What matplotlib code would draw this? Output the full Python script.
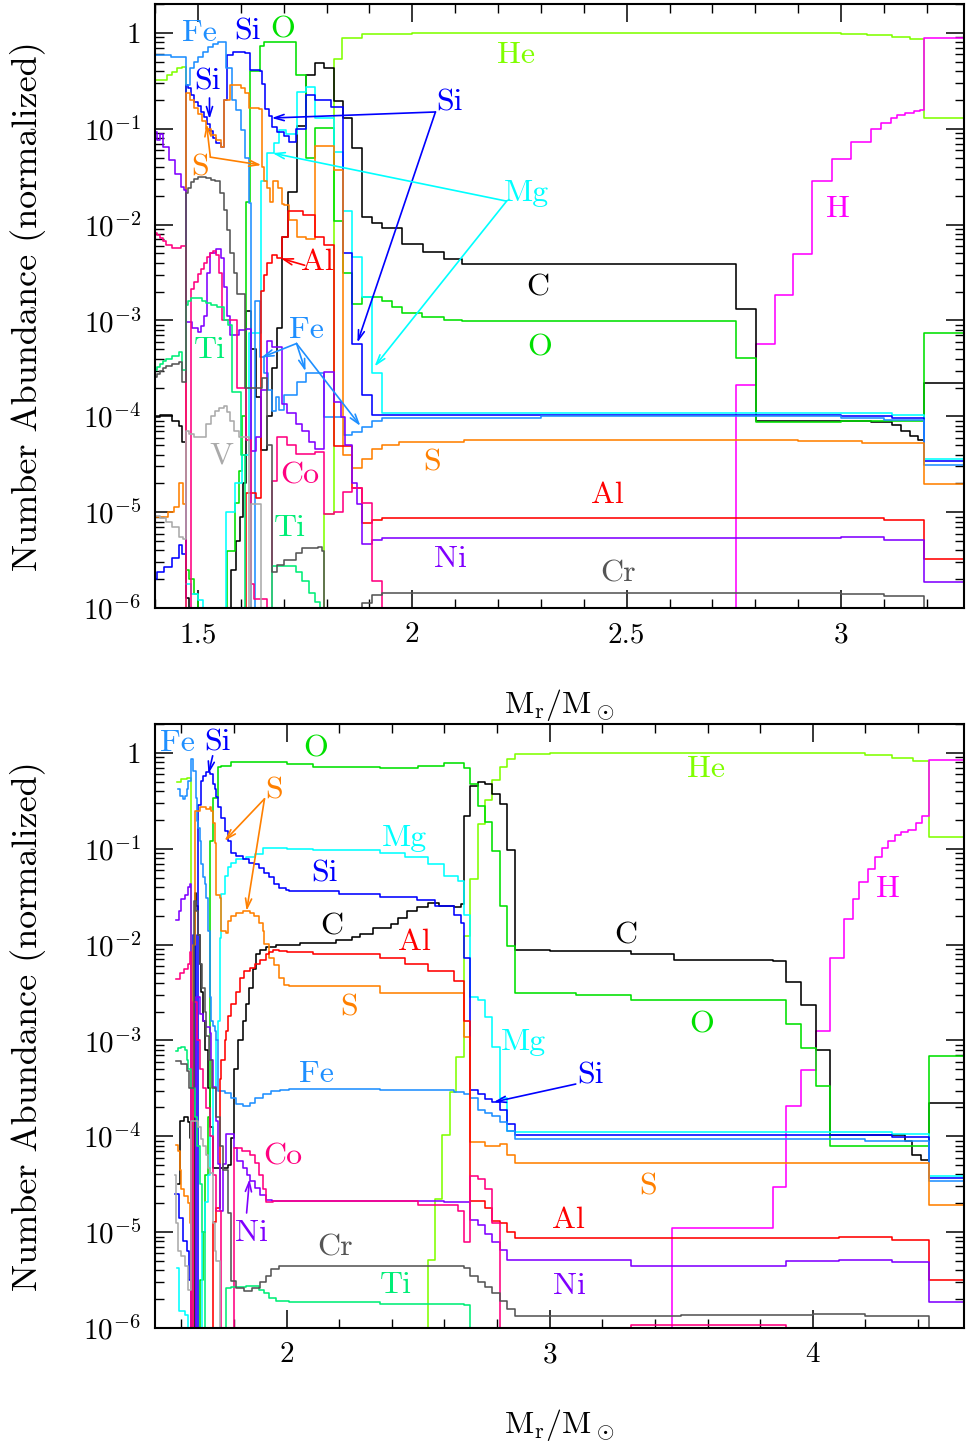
import numpy as np
import matplotlib
matplotlib.use('Agg')
import matplotlib.pyplot as plt
from matplotlib.ticker import MultipleLocator, LogLocator, FuncFormatter, NullFormatter

plt.rcParams['font.family'] = 'cmr10'
plt.rcParams['mathtext.fontset'] = 'cm'
plt.rcParams['axes.unicode_minus'] = False
plt.rcParams['axes.formatter.use_mathtext'] = True

# values: (M_r/M_sun, log10 number abundance), step curves

# ---- upper panel ----
he_top = [(1.397, -0.49), (1.428, -0.44), (1.44, -0.41), (1.452, -0.37), (1.463, -0.36), (1.472, -7),
          (1.795, -5.02), (1.817, -0.27), (1.837, -0.055), (1.883, -0.01), (2.0, 0.0), (2.93, 0.0),
          (3.0, -0.01), (3.06, -0.02), (3.12, -0.04), (3.16, -0.06), (3.194, -0.885), (3.29, -0.885)]
h_top = [(2.70, -7), (2.754, -3.67), (2.801, -3.24), (2.845, -2.73), (2.889, -2.31), (2.933, -1.55),
         (2.978, -1.32), (3.024, -1.14), (3.07, -1.0), (3.093, -0.94), (3.117, -0.885), (3.13, -0.86),
         (3.15, -0.84), (3.17, -0.815), (3.185, -0.80), (3.194, -0.055), (3.29, -0.055)]
c_top = [(1.397, -4.01), (1.411, -3.99), (1.44, -4.05), (1.455, -4.10), (1.462, -4.27), (1.472, -5.89),
         (1.479, -7), (1.567, -7), (1.578, -5.6), (1.588, -5.3), (1.598, -5.05), (1.605, -4.7),
         (1.611, -2.9), (1.623, -3.3), (1.635, -3.8), (1.646, -4.35), (1.66, -4.0), (1.673, -3.5),
         (1.685, -3.08), (1.697, -2.13), (1.711, -1.66), (1.73, -0.97), (1.751, -0.44), (1.774, -0.31),
         (1.794, -0.37), (1.817, -0.71), (1.839, -0.885), (1.86, -1.2), (1.883, -1.92), (1.907, -1.985),
         (1.93, -2.04), (1.977, -2.2), (2.025, -2.29), (2.074, -2.36), (2.117, -2.41), (2.754, -2.88),
         (2.802, -4.05), (3.07, -4.06), (3.12, -4.09), (3.14, -4.15), (3.16, -4.21), (3.18, -4.25),
         (3.194, -3.65), (3.29, -3.65)]
o_top = [(1.472, -5.6), (1.48, -5.7), (1.49, -5.85), (1.5, -6.0), (1.51, -6.3), (1.52, -7), (1.568, -5.4),
         (1.586, -4.9), (1.596, -4.57), (1.603, -4.0), (1.611, -1.76), (1.622, -0.40), (1.645, -0.14),
         (1.654, -0.10), (1.728, -0.44), (1.751, -1.31), (1.773, -0.99), (1.817, -1.96), (1.839, -2.50),
         (1.86, -2.83), (1.883, -2.75), (1.907, -2.76), (1.93, -2.80), (1.953, -2.86), (1.976, -2.92),
         (2.023, -2.96), (2.074, -2.99), (2.117, -3.005), (2.754, -3.39), (2.801, -4.06), (3.0, -4.05),
         (3.194, -3.13), (3.29, -3.13)]
mg_top = [(1.472, -5.75), (1.484, -5.85), (1.5, -5.92), (1.512, -6.05), (1.524, -7), (1.565, -5.0),
          (1.586, -4.7), (1.603, -4.4), (1.619, -3.13), (1.646, -1.55), (1.661, -1.25), (1.677, -1.15),
          (1.689, -1.01), (1.705, -1.05), (1.731, -0.62), (1.751, -0.56), (1.773, -0.89), (1.796, -0.89),
          (1.817, -1.24), (1.839, -1.86), (1.86, -2.34), (1.883, -2.75), (1.907, -3.55), (1.93, -3.96),
          (3.0, -3.97), (3.12, -3.99), (3.194, -4.44), (3.29, -4.44)]
si_top = [(1.397, -5.7), (1.405, -5.62), (1.42, -5.57), (1.44, -5.48), (1.455, -5.34), (1.462, -5.44),
          (1.472, -0.54), (1.478, -0.58), (1.484, -0.65), (1.49, -0.72), (1.5, -0.76), (1.507, -0.82),
          (1.514, -0.88), (1.521, -0.95), (1.528, -1.02), (1.535, -1.10), (1.542, -1.15), (1.553, -1.19),
          (1.561, -0.70), (1.568, -0.23), (1.582, -0.195), (1.61, -0.21), (1.622, -0.39), (1.645, -0.40),
          (1.649, -0.53), (1.657, -0.79), (1.665, -0.87), (1.672, -0.98), (1.684, -1.03), (1.70, -1.08),
          (1.712, -1.14), (1.728, -1.0), (1.751, -0.65), (1.774, -0.70), (1.811, -0.77), (1.839, -2.30),
          (1.86, -3.24), (1.883, -3.78), (1.907, -3.99), (3.0, -4.0), (3.12, -4.02), (3.194, -4.47),
          (3.29, -4.47)]
fe_top = [(1.397, -0.23), (1.437, -0.25), (1.472, -0.54), (1.481, -0.37), (1.491, -0.30), (1.5, -0.25),
          (1.512, -0.20), (1.523, -0.15), (1.535, -0.12), (1.547, -0.10), (1.565, -0.37), (1.579, -0.70),
          (1.589, -0.80), (1.60, -1.01), (1.61, -1.30), (1.619, -1.77), (1.624, -7), (1.633, -2.80),
          (1.645, -3.38), (1.654, -3.55), (1.663, -3.73), (1.673, -3.94), (1.682, -3.80), (1.689, -3.93),
          (1.70, -3.78), (1.731, -3.64), (1.752, -3.55), (1.794, -4.01), (1.841, -4.19), (1.86, -4.16),
          (1.883, -4.11), (1.906, -4.05), (1.929, -4.02), (2.3, -4.0), (3.0, -4.02), (3.1, -4.04),
          (3.194, -4.51), (3.29, -4.51)]
s_top = [(1.397, -5.05), (1.43, -5.0), (1.445, -4.95), (1.455, -4.69), (1.465, -4.91), (1.472, -0.63),
         (1.481, -0.70), (1.491, -0.78), (1.5, -0.85), (1.51, -0.92), (1.52, -1.0), (1.53, -1.06),
         (1.542, -1.12), (1.553, -1.19), (1.56, -0.70), (1.575, -0.54), (1.6, -0.58), (1.61, -0.63),
         (1.62, -0.78), (1.643, -0.79), (1.65, -1.40), (1.655, -1.55), (1.66, -1.62), (1.668, -1.76),
         (1.676, -1.55), (1.686, -1.62), (1.695, -1.78), (1.70, -1.80), (1.712, -1.95), (1.731, -2.13),
         (1.752, -2.15), (1.773, -1.18), (1.796, -1.18), (1.817, -1.43), (1.839, -4.40), (1.86, -4.54),
         (1.883, -4.44), (1.907, -4.34), (1.93, -4.30), (1.97, -4.27), (2.12, -4.25), (2.9, -4.26),
         (3.05, -4.28), (3.194, -4.71), (3.29, -4.71)]
al_top = [(1.60, -7), (1.612, -4.80), (1.635, -4.85), (1.646, -2.69), (1.655, -2.53), (1.662, -2.40),
          (1.672, -2.32), (1.685, -2.35), (1.697, -2.13), (1.71, -1.86), (1.745, -1.90), (1.773, -2.13),
          (1.794, -2.21), (1.817, -4.31), (1.86, -4.75), (1.883, -5.11), (1.907, -5.08), (1.93, -5.06),
          (3.0, -5.06), (3.1, -5.08), (3.194, -5.49), (3.29, -5.49)]
ni_top = [(1.397, -1.03), (1.404, -1.12), (1.411, -1.05), (1.418, -1.19), (1.432, -1.33), (1.446, -1.47),
          (1.46, -1.61), (1.467, -1.64), (1.472, -3.02), (1.486, -3.08), (1.5, -3.12), (1.507, -3.06),
          (1.514, -2.95), (1.521, -2.5), (1.528, -2.30), (1.542, -2.25), (1.553, -2.35), (1.56, -2.65),
          (1.567, -2.95), (1.575, -3.15), (1.595, -3.10), (1.611, -3.09), (1.623, -4.36), (1.635, -4.22),
          (1.646, -3.73), (1.662, -3.21), (1.673, -3.28), (1.697, -3.87), (1.708, -3.96), (1.728, -4.08),
          (1.743, -4.15), (1.759, -4.27), (1.774, -4.34), (1.794, -3.54), (1.817, -3.85), (1.833, -4.01),
          (1.844, -4.3), (1.86, -4.69), (1.872, -4.91), (1.883, -5.33), (1.907, -5.29), (1.93, -5.27),
          (3.0, -5.26), (3.1, -5.29), (3.194, -5.73), (3.29, -5.73)]
co_top = [(1.397, -2.09), (1.404, -2.11), (1.411, -2.14), (1.418, -2.17), (1.425, -2.21), (1.44, -2.24),
          (1.46, -2.22), (1.472, -7), (1.483, -2.67), (1.49, -2.6), (1.5, -2.52), (1.507, -2.46),
          (1.514, -2.40), (1.521, -2.34), (1.528, -2.30), (1.535, -2.28), (1.542, -2.32), (1.549, -2.5),
          (1.556, -3.0), (1.576, -3.0), (1.592, -3.70), (1.611, -4.25), (1.623, -5.75), (1.63, -5.9),
          (1.654, -5.9), (1.662, -7), (1.673, -4.67), (1.685, -4.22), (1.708, -4.3), (1.728, -4.39),
          (1.774, -4.37), (1.794, -5.02), (1.817, -5.0), (1.839, -4.79), (1.86, -4.75), (1.883, -4.9),
          (1.907, -5.72), (1.93, -7), (3.29, -7)]
ti_top = [(1.397, -3.52), (1.404, -3.48), (1.411, -3.45), (1.418, -3.42), (1.425, -3.40), (1.44, -3.37),
          (1.455, -3.33), (1.462, -3.52), (1.472, -2.84), (1.478, -2.80), (1.484, -2.77), (1.50, -2.77),
          (1.51, -2.80), (1.52, -2.82), (1.53, -2.84), (1.545, -2.86), (1.56, -3.0), (1.57, -3.05),
          (1.58, -3.75), (1.60, -4.4), (1.61, -7), (1.673, -5.56), (1.70, -5.56), (1.728, -5.62),
          (1.743, -5.72), (1.759, -5.84), (1.774, -5.94), (1.785, -6.0), (1.80, -7), (3.29, -7)]
cr_top = [(1.397, -3.59), (1.404, -3.56), (1.411, -3.53), (1.418, -3.50), (1.425, -3.47), (1.44, -3.45),
          (1.455, -3.43), (1.462, -3.64), (1.472, -1.67), (1.478, -1.62), (1.484, -1.56), (1.49, -1.52),
          (1.50, -1.50), (1.52, -1.51), (1.53, -1.53), (1.54, -1.55), (1.552, -1.67), (1.56, -1.85),
          (1.568, -2.06), (1.575, -2.30), (1.585, -2.50), (1.59, -2.72), (1.61, -3.70), (1.65, -3.60),
          (1.66, -4.3), (1.673, -5.62), (1.685, -5.55), (1.70, -5.5), (1.728, -5.43), (1.743, -5.37),
          (1.78, -5.36), (1.79, -5.40), (1.794, -7), (1.86, -7), (1.883, -5.95), (1.907, -5.86),
          (1.93, -5.84), (3.0, -5.85), (3.1, -5.87), (3.194, -7), (3.29, -7)]
v_top = [(1.397, -5.04), (1.411, -5.06), (1.425, -5.10), (1.44, -5.15), (1.455, -5.26), (1.465, -5.28),
         (1.472, -4.15), (1.48, -4.18), (1.49, -4.22), (1.51, -4.22), (1.52, -4.08), (1.53, -4.0),
         (1.54, -3.94), (1.55, -3.91), (1.56, -3.89), (1.568, -3.95), (1.575, -4.05), (1.585, -4.15),
         (1.595, -4.22), (1.61, -4.22), (1.618, -7), (1.624, -4.91), (1.645, -4.91), (1.648, -7), (3.29, -7)]

# ---- lower panel ----
he_bot = [(1.584, -0.30), (1.60, -0.27), (1.62, -0.26), (1.638, -7), (2.536, -5.29), (2.564, -4.65),
          (2.592, -3.99), (2.62, -3.54), (2.642, -3.17), (2.674, -1.91), (2.698, -1.32), (2.726, -0.74),
          (2.754, -0.49), (2.782, -0.28), (2.81, -0.15), (2.838, -0.06), (2.867, -0.017), (3.0, 0.0),
          (4.11, 0.0), (4.2, -0.02), (4.3, -0.05), (4.38, -0.09), (4.44, -0.88), (4.58, -0.88)]
h_bot = [(3.40, -7), (3.464, -4.96), (3.85, -4.53), (3.899, -3.68), (3.956, -3.31), (4.012, -2.90),
         (4.065, -2.14), (4.117, -1.73), (4.152, -1.52), (4.176, -1.35), (4.208, -1.21), (4.236, -1.09),
         (4.262, -0.99), (4.286, -0.92), (4.314, -0.86), (4.335, -0.83), (4.363, -0.80), (4.391, -0.73),
         (4.415, -0.66), (4.44, -0.07), (4.58, -0.07)]
c_bot = [(1.587, -4.5), (1.593, -3.84), (1.61, -3.80), (1.625, -3.85), (1.631, -4.02), (1.638, -7),
         (1.65, -1.46), (1.657, -1.6), (1.663, -1.9), (1.669, -2.2), (1.676, -2.5), (1.682, -2.8),
         (1.69, -3.1), (1.70, -3.5), (1.707, -3.9), (1.72, -4.33), (1.777, -4.30), (1.79, -4.02),
         (1.80, -3.3), (1.815, -3.0), (1.834, -2.80), (1.846, -2.62), (1.859, -2.45), (1.872, -2.25),
         (1.885, -2.10), (1.90, -2.06), (1.923, -2.03), (1.96, -2.0), (2.05, -1.98), (2.189, -1.95),
         (2.25, -1.92), (2.278, -1.89), (2.33, -1.83), (2.396, -1.79), (2.424, -1.72), (2.459, -1.65),
         (2.494, -1.61), (2.536, -1.57), (2.578, -1.60), (2.635, -1.61), (2.663, -1.58), (2.674, -0.655),
         (2.698, -0.35), (2.726, -0.30), (2.754, -0.33), (2.782, -0.43), (2.81, -0.53), (2.838, -1.01),
         (2.867, -2.06), (3.0, -2.07), (3.31, -2.10), (3.471, -2.16), (3.85, -2.17), (3.899, -2.39),
         (3.956, -2.63), (4.012, -3.10), (4.065, -3.99), (4.349, -4.05), (4.377, -4.20), (4.412, -4.25),
         (4.44, -3.65), (4.58, -3.65)]
o_bot = [(1.66, -7), (1.67, -5.5), (1.682, -5.0), (1.69, -4.4), (1.70, -3.8), (1.707, -0.92),
         (1.72, -0.47), (1.739, -0.15), (1.752, -0.135), (1.79, -0.10), (1.9, -0.10), (2.0, -0.12),
         (2.1, -0.15), (2.354, -0.16), (2.5, -0.14), (2.6, -0.11), (2.674, -0.16), (2.698, -0.33),
         (2.726, -0.55), (2.754, -0.72), (2.782, -1.02), (2.81, -1.60), (2.838, -2.01), (2.867, -2.51),
         (3.1, -2.53), (3.31, -2.58), (3.899, -2.83), (3.956, -3.08), (4.012, -3.48), (4.065, -4.10),
         (4.44, -3.16), (4.58, -3.16)]
mg_bot = [(1.582, -5.37), (1.59, -5.82), (1.615, -5.86), (1.625, -7), (1.68, -5.0), (1.69, -4.69),
          (1.70, -4.4), (1.71, -4.0), (1.72, -3.5), (1.73, -3.0), (1.739, -2.80), (1.745, -1.93),
          (1.752, -1.47), (1.764, -1.28), (1.777, -1.19), (1.79, -1.15), (1.809, -1.11), (1.847, -1.09),
          (1.88, -1.06), (1.91, -0.99), (2.0, -1.0), (2.1, -1.01), (2.354, -1.05), (2.45, -1.09),
          (2.536, -1.16), (2.6, -1.28), (2.65, -1.34), (2.674, -1.69), (2.698, -2.55), (2.726, -2.58),
          (2.754, -2.76), (2.782, -3.07), (2.81, -3.60), (2.838, -3.95), (2.867, -3.96), (4.3, -3.98),
          (4.44, -4.41), (4.58, -4.41)]
si_bot = [(1.575, -4.6), (1.59, -4.85), (1.606, -5.09), (1.62, -5.2), (1.63, -5.5), (1.64, -7),
          (1.645, -1.9), (1.655, -7), (1.665, -0.54), (1.676, -0.29), (1.682, -0.24), (1.695, -0.205),
          (1.707, -0.22), (1.72, -0.327), (1.726, -0.379), (1.733, -0.466), (1.739, -0.57), (1.752, -0.675),
          (1.764, -0.814), (1.777, -0.919), (1.79, -1.04), (1.809, -1.075), (1.834, -1.11), (1.859, -1.145),
          (1.878, -1.162), (1.897, -1.197), (1.916, -1.249), (1.935, -1.30), (1.954, -1.37), (1.973, -1.405),
          (1.999, -1.43), (2.011, -1.44), (2.2, -1.47), (2.354, -1.50), (2.494, -1.54), (2.564, -1.60),
          (2.635, -1.69), (2.663, -1.77), (2.674, -2.14), (2.698, -3.52), (2.726, -3.56), (2.754, -3.61),
          (2.782, -3.64), (2.81, -3.73), (2.838, -3.87), (2.867, -3.99), (4.3, -4.01), (4.44, -4.43),
          (4.58, -4.43)]
fe_bot = [(1.587, -0.38), (1.595, -0.45), (1.605, -0.48), (1.615, -0.45), (1.62, -0.38), (1.627, -0.29),
          (1.638, -0.066), (1.645, -0.19), (1.654, -0.47), (1.66, -0.71), (1.665, -0.78), (1.67, -0.92),
          (1.676, -1.16), (1.682, -1.30), (1.688, -1.37), (1.695, -1.51), (1.70, -1.86), (1.707, -2.55),
          (1.714, -2.80), (1.72, -2.85), (1.726, -2.90), (1.733, -3.0), (1.739, -3.53), (1.764, -3.55),
          (1.79, -3.60), (1.809, -3.66), (1.834, -3.68), (1.86, -3.65), (1.88, -3.60), (1.91, -3.56),
          (1.94, -3.53), (1.975, -3.52), (2.011, -3.51), (2.354, -3.52), (2.635, -3.54), (2.674, -3.56),
          (2.698, -3.60), (2.726, -3.73), (2.754, -3.76), (2.782, -3.79), (2.81, -3.85), (2.838, -3.95),
          (2.867, -4.03), (4.2, -4.05), (4.44, -4.47), (4.58, -4.47)]
s_bot = [(1.58, -4.09), (1.587, -4.15), (1.593, -4.35), (1.60, -4.55), (1.61, -4.62), (1.625, -4.7),
         (1.632, -4.9), (1.638, -7), (1.645, -2.0), (1.652, -0.61), (1.669, -0.57), (1.682, -0.57),
         (1.695, -0.59), (1.707, -0.57), (1.714, -0.61), (1.72, -0.73), (1.726, -0.94), (1.733, -1.48),
         (1.745, -1.51), (1.752, -1.86), (1.77, -1.88), (1.777, -1.75), (1.79, -1.70), (1.809, -1.67),
         (1.834, -1.65), (1.86, -1.67), (1.878, -1.70), (1.897, -1.77), (1.91, -1.86), (1.916, -1.99),
         (1.935, -2.14), (1.954, -2.21), (1.973, -2.35), (1.99, -2.42), (2.011, -2.43), (2.354, -2.51),
         (2.674, -2.96), (2.698, -4.06), (2.754, -4.10), (2.81, -4.08), (2.838, -4.20), (2.867, -4.28),
         (4.2, -4.28), (4.44, -4.72), (4.58, -4.72)]
al_bot = [(1.712, -7), (1.72, -4.89), (1.733, -4.75), (1.745, -3.4), (1.752, -3.2), (1.764, -3.0),
          (1.771, -2.9), (1.777, -2.75), (1.79, -2.62), (1.809, -2.50), (1.823, -2.35), (1.84, -2.28),
          (1.86, -2.24), (1.88, -2.20), (1.90, -2.16), (1.92, -2.10), (1.935, -2.08), (1.95, -2.06),
          (1.97, -2.07), (2.0, -2.08), (2.1, -2.10), (2.354, -2.14), (2.45, -2.20), (2.536, -2.28),
          (2.635, -2.38), (2.674, -2.80), (2.698, -4.67), (2.754, -4.75), (2.782, -4.88), (2.81, -4.90),
          (2.838, -5.0), (2.867, -5.06), (4.1, -5.05), (4.3, -5.08), (4.44, -5.50), (4.58, -5.50)]
ni_bot = [(1.58, -1.74), (1.59, -1.65), (1.60, -1.52), (1.615, -1.48), (1.625, -1.40), (1.632, -1.37),
          (1.638, -7), (1.654, -2.55), (1.669, -2.72), (1.682, -2.80), (1.695, -2.86), (1.707, -2.92),
          (1.714, -3.2), (1.72, -3.49), (1.733, -3.84), (1.74, -4.29), (1.745, -4.78), (1.758, -4.29),
          (1.771, -3.98), (1.79, -3.98), (1.80, -4.12), (1.81, -4.26), (1.835, -4.33), (1.848, -4.40),
          (1.86, -4.47), (1.88, -4.54), (1.90, -4.61), (1.92, -4.66), (1.945, -4.68), (2.6, -4.69),
          (2.698, -4.87), (2.726, -4.93), (2.754, -5.02), (2.782, -5.10), (2.81, -5.19), (2.838, -5.29),
          (3.31, -5.35), (3.899, -5.30), (4.1, -5.29), (4.3, -5.31), (4.44, -5.73), (4.58, -5.73)]
co_bot = [(1.58, -2.36), (1.595, -2.30), (1.61, -2.25), (1.625, -2.20), (1.633, -2.08), (1.638, -7),
          (1.645, -2.6), (1.66, -3.0), (1.67, -3.3), (1.684, -3.5), (1.695, -3.70), (1.707, -4.0),
          (1.72, -4.4), (1.733, -4.78), (1.75, -7), (1.785, -7), (1.80, -4.12), (1.83, -4.15), (1.86, -4.2),
          (1.88, -4.28), (1.895, -4.4), (1.91, -4.55), (1.92, -4.69), (1.95, -4.68), (2.354, -4.67),
          (2.5, -4.72), (2.65, -4.78), (2.674, -5.10), (2.698, -4.41), (2.726, -4.45), (2.754, -4.55),
          (2.782, -4.9), (2.81, -7), (3.31, -5.97), (3.899, -7), (4.58, -7)]
ti_bot = [(1.58, -3.11), (1.587, -3.08), (1.60, -3.07), (1.615, -3.10), (1.62, -3.2), (1.625, -3.3),
          (1.638, -3.5), (1.65, -3.8), (1.66, -4.1), (1.67, -4.5), (1.68, -5.0), (1.69, -7), (1.771, -5.58),
          (1.79, -5.57), (1.847, -5.56), (1.897, -5.6), (1.916, -5.63), (1.935, -5.69), (1.961, -5.72),
          (2.011, -5.73), (2.354, -5.745), (2.674, -5.76), (2.698, -7), (4.58, -7)]
cr_bot = [(1.58, -3.21), (1.6, -3.25), (1.62, -3.32), (1.63, -3.5), (1.647, -1.55), (1.657, -1.65),
          (1.665, -1.9), (1.672, -2.2), (1.68, -2.45), (1.688, -2.7), (1.695, -2.95), (1.705, -3.2),
          (1.715, -3.5), (1.73, -3.8), (1.745, -4.1), (1.76, -4.35), (1.777, -4.8), (1.79, -5.51),
          (1.809, -5.58), (1.84, -5.61), (1.87, -5.58), (1.9, -5.52), (1.92, -5.46), (1.94, -5.38),
          (1.97, -5.35), (2.674, -5.37), (2.698, -5.46), (2.726, -5.52), (2.754, -5.57), (2.782, -5.63),
          (2.81, -5.72), (2.838, -5.80), (2.867, -5.87), (3.5, -5.86), (4.0, -5.85), (4.2, -5.87),
          (4.44, -7), (4.58, -7)]
v_bot = [(1.575, -4.4), (1.58, -4.9), (1.587, -5.2), (1.60, -5.25), (1.615, -5.35), (1.625, -5.6),
         (1.638, -3.84), (1.654, -3.84), (1.664, -3.9), (1.676, -4.03), (1.682, -4.1), (1.695, -4.2),
         (1.70, -4.33), (1.707, -4.38), (1.72, -4.9), (1.726, -5.2), (1.733, -5.3), (1.745, -7), (4.58, -7)]

colors = {'He': '#80ff00', 'H': '#ff00ff', 'C': '#000000', 'O': '#00e000', 'Mg': '#00ffff',
          'Si': '#0000ff', 'Fe': '#1e8fff', 'S': '#ff8000', 'Al': '#ff0000', 'Ni': '#8000ff',
          'Co': '#ff0080', 'Ti': '#00ee77', 'Cr': '#555555', 'V': '#aaaaaa'}

top_curves = [('He', he_top), ('H', h_top), ('C', c_top), ('O', o_top), ('Mg', mg_top), ('Si', si_top),
              ('Fe', fe_top), ('S', s_top), ('Al', al_top), ('Ni', ni_top), ('Co', co_top),
              ('Ti', ti_top), ('Cr', cr_top), ('V', v_top)]
bot_curves = [('He', he_bot), ('H', h_bot), ('C', c_bot), ('O', o_bot), ('Mg', mg_bot), ('Si', si_bot),
              ('Fe', fe_bot), ('S', s_bot), ('Al', al_bot), ('Ni', ni_bot), ('Co', co_bot),
              ('Ti', ti_bot), ('Cr', cr_bot), ('V', v_bot)]

# label positions (x, log10 y)
top_labels = [('Fe', 1.504, 0.0), ('Si', 1.616, 0.01), ('O', 1.697, 0.03), ('Si', 1.523, -0.51),
              ('S', 1.504, -1.41), ('He', 2.243, -0.23), ('Si', 2.087, -0.73), ('Mg', 2.266, -1.67),
              ('H', 2.992, -1.84), ('Al', 1.779, -2.39), ('C', 2.292, -2.66), ('O', 2.297, -3.28),
              ('Fe', 1.753, -3.10), ('Ti', 1.527, -3.31), ('V', 1.555, -4.41), ('S', 2.047, -4.48),
              ('Co', 1.737, -4.62), ('Al', 2.456, -4.82), ('Ti', 1.714, -5.17), ('Ni', 2.09, -5.49),
              ('Cr', 2.479, -5.64)]
bot_labels = [('Fe', 1.586, 0.10), ('Si', 1.738, 0.10), ('O', 2.11, 0.04), ('S', 1.954, -0.40),
              ('Mg', 2.449, -0.89), ('Si', 2.144, -1.26), ('C', 2.171, -1.81), ('Al', 2.487, -1.98),
              ('S', 2.236, -2.66), ('He', 3.593, -0.17), ('C', 3.289, -1.91), ('H', 4.285, -1.42),
              ('O', 3.578, -2.84), ('Mg', 2.901, -3.02), ('Si', 3.156, -3.37), ('Fe', 2.114, -3.35),
              ('Co', 1.985, -4.21), ('Ni', 1.867, -5.01), ('Cr', 2.183, -5.16), ('Ti', 2.414, -5.55),
              ('Al', 3.072, -4.88), ('S', 3.373, -4.53), ('Ni', 3.076, -5.56)]
# arrows: element, start (x, log10 y), end (x, log10 y)
top_arrows = [('Si', (2.054, -0.825), (1.672, -0.888)), ('Si', (2.054, -0.825), (1.872, -3.23)),
              ('Mg', (2.22, -1.755), (1.674, -1.254)), ('Mg', (2.22, -1.755), (1.912, -3.48)),
              ('Fe', (1.73, -3.24), (1.648, -3.386)), ('Fe', (1.73, -3.24), (1.751, -3.53)),
              ('Fe', (1.73, -3.24), (1.879, -4.10)), ('S', (1.529, -1.296), (1.52, -0.951)),
              ('S', (1.529, -1.296), (1.648, -1.379)), ('Si', (1.527, -0.679), (1.527, -0.899)),
              ('Al', (1.749, -2.424), (1.693, -2.351))]
bot_arrows = [('Si', (1.719, -0.031), (1.703, -0.219)), ('S', (1.916, -0.48), (1.764, -0.919)),
              ('S', (1.916, -0.48), (1.848, -1.649)), ('Si', (3.099, -3.455), (2.787, -3.643)),
              ('Ni', (1.848, -4.80), (1.859, -4.447))]


def ylab(v, pos):
    e = int(round(np.log10(v)))
    return '1' if e == 0 else r'$10^{%d}$' % e


def panel(ax, curves, labels, arrows, xlim, major, minor):
    for name, pts in curves:
        x = np.array([p[0] for p in pts])
        y = 10.0 ** np.array([p[1] for p in pts])
        ax.step(x, y, where='post', color=colors[name], lw=1.15)
    for name, x, ly in labels:
        ax.text(x, 10 ** ly, name, color=colors[name], fontsize=23, ha='center', va='center')
    for name, a, b in arrows:
        ax.annotate('', xy=(b[0], 10 ** b[1]), xytext=(a[0], 10 ** a[1]),
                    arrowprops=dict(arrowstyle='->,head_length=0.7,head_width=0.22', color=colors[name],
                                    lw=1.2, shrinkA=0, shrinkB=0))
    ax.set_yscale('log')
    ax.set_xlim(*xlim)
    ax.set_ylim(1e-6, 2.0)
    ax.xaxis.set_major_locator(MultipleLocator(major))
    ax.xaxis.set_minor_locator(MultipleLocator(minor))
    ax.xaxis.set_major_formatter(FuncFormatter(lambda v, p: '%g' % round(v, 3)))
    ax.yaxis.set_major_locator(LogLocator(base=10, numticks=20))
    ax.yaxis.set_minor_locator(LogLocator(base=10, subs=np.arange(2, 10), numticks=20))
    ax.yaxis.set_minor_formatter(NullFormatter())
    ax.yaxis.set_major_formatter(FuncFormatter(ylab))
    ax.tick_params(which='both', direction='in', top=True, right=True, labelsize=21, pad=10)
    ax.tick_params(which='major', length=13, width=1.1)
    ax.tick_params(which='minor', length=6.5, width=1.0)
    for s in ax.spines.values():
        s.set_linewidth(1.5)
    ax.set_xlabel(r'$\mathrm{M_r/M_\odot}$', fontsize=23)
    ax.xaxis.set_label_coords(0.5, -0.13)
    ax.set_ylabel('Number Abundance (normalized)', fontsize=26)
    ax.yaxis.set_label_coords(-0.135, 0.5)


fig = plt.figure(figsize=(9.66, 14.41), dpi=100)
ax1 = fig.add_axes([0.1605, 0.578, 0.8375, 0.4192])
ax2 = fig.add_axes([0.1605, 0.0784, 0.8375, 0.4192])
panel(ax1, top_curves, top_labels, top_arrows, (1.4, 3.287), 0.5, 0.1)
panel(ax2, bot_curves, bot_labels, bot_arrows, (1.5, 4.575), 1.0, 0.2)
fig.savefig('out.png', dpi=100)
